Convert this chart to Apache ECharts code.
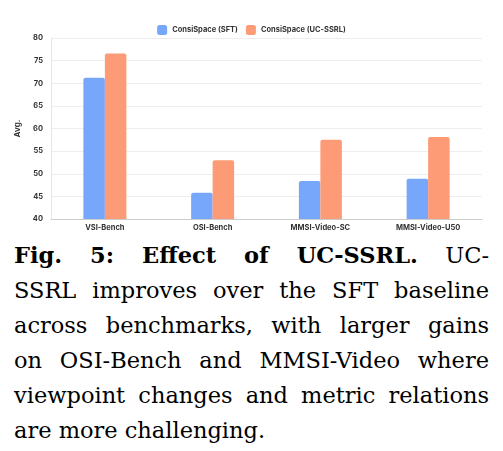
<!DOCTYPE html>
<html><head><meta charset="utf-8">
<script src="https://cdn.jsdelivr.net/npm/echarts@6/dist/echarts.min.js"></script>
<style>
body{margin:0;background:#fff;width:503px;height:451px;overflow:hidden}
#c{width:503px;height:232px}
#cap{position:absolute;left:14px;top:238px;width:475px;font-family:"DejaVu Serif",serif;font-size:22.5px;line-height:35px;color:#000}
#cap div{text-align:justify;text-align-last:justify;white-space:nowrap}
#cap div.last{text-align-last:left}
</style></head><body>
<div id="c"></div>
<div id="cap">
<div><b>Fig. 5: Effect of UC-SSRL.</b> UC-</div>
<div>SSRL improves over the SFT baseline</div>
<div>across benchmarks, with larger gains</div>
<div>on OSI-Bench and MMSI-Video where</div>
<div>viewpoint changes and metric relations</div>
<div class="last">are more challenging.</div>
</div>
<script>
const categories=["VSI-Bench","OSI-Bench","MMSI-Video-SC","MMSI-Video-U50"];
const sftValues=[71.2,45.8,48.4,48.9];
const ssrlValues=[76.6,53.0,57.5,58.1];
const seriesNames=["ConsiSpace (SFT)","ConsiSpace (UC-SSRL)"];
const chart=echarts.init(document.getElementById('c'));
const lbl={fontFamily:"Inter, sans-serif",fontSize:7.5,fontWeight:'bold',color:'#333'};
chart.setOption({
 animation:false,
 legend:{top:20,itemWidth:10,itemHeight:10,itemGap:8,icon:'roundRect',textStyle:{fontFamily:"Inter, sans-serif",fontSize:7.5,fontWeight:'bold',color:'#333'}},
 grid:{left:51,right:21,top:38,bottom:9,containLabel:false},
 xAxis:{type:'category',data:categories,axisTick:{show:false},axisLine:{lineStyle:{color:'#ccc'}},axisLabel:Object.assign({margin:5},lbl)},
 yAxis:{type:'value',min:40,max:80,interval:5,name:'Avg.',nameLocation:'middle',nameGap:24,nameTextStyle:{fontFamily:"Inter, sans-serif",fontSize:8,fontWeight:'bold',color:'#333'},axisLabel:lbl,splitLine:{lineStyle:{color:'#eee'}},axisLine:{show:true,lineStyle:{color:'#e6e6e6'}}},
 series:[
  {name:seriesNames[0],type:'bar',data:sftValues,barWidth:21.5,barGap:'0%',itemStyle:{color:'#77a7fb',borderRadius:[2,2,0,0]}},
  {name:seriesNames[1],type:'bar',data:ssrlValues,barWidth:21.5,itemStyle:{color:'#fc9b76',borderRadius:[2,2,0,0]}}
 ]
});
</script></body></html>
